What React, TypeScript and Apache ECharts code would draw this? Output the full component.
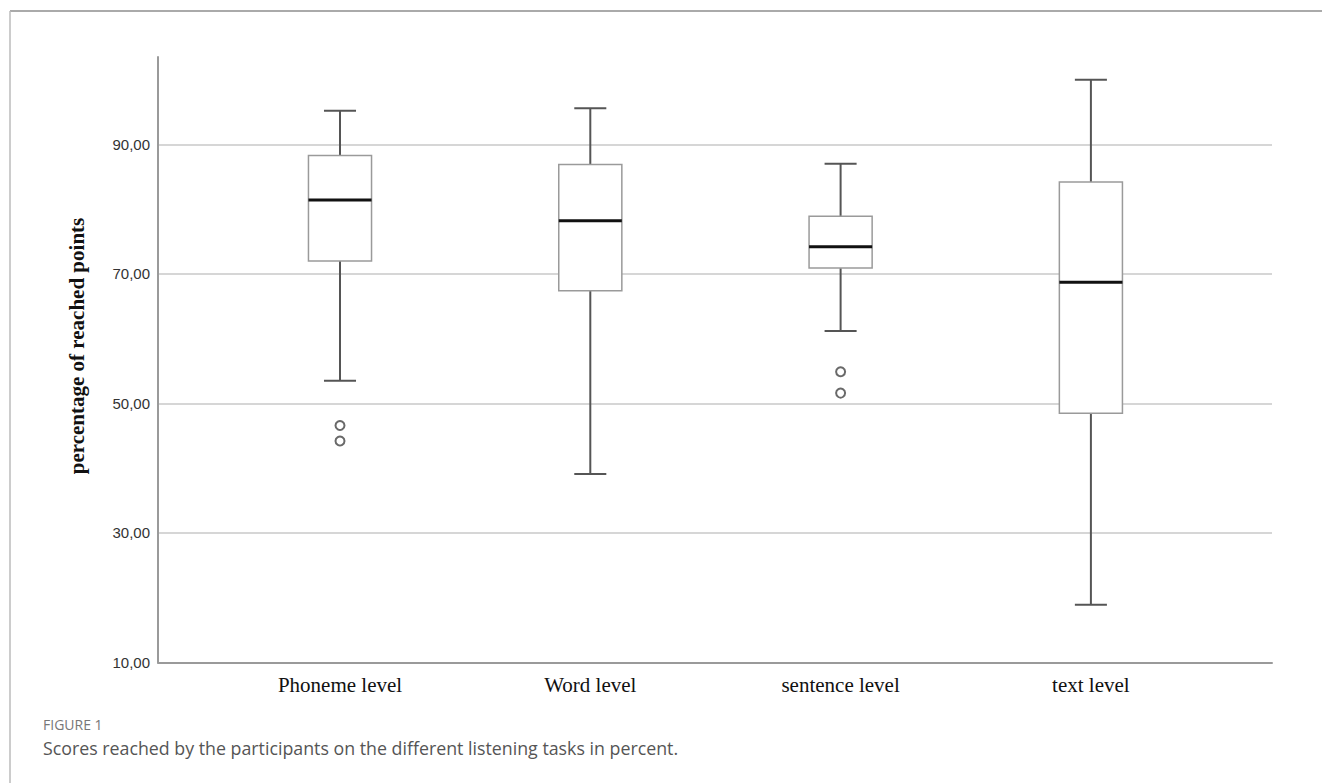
import React, { useEffect, useRef } from "react";
import * as echarts from "echarts";

const categories = ["Phoneme level", "Word level", "sentence level", "text level"];
const whiskerLow = [53.5, 39.1, 61.2, 18.9];
const quartile1 = [72.0, 67.4, 70.9, 48.5];
const medians = [81.4, 78.2, 74.2, 68.7];
const quartile3 = [88.3, 86.9, 78.9, 84.2];
const whiskerHigh = [95.2, 95.6, 87.0, 100.0];
const outlierCategory = [0, 0, 2, 2];
const outlierValue = [46.6, 44.2, 54.9, 51.6];
const yTicks = [10, 30, 50, 70, 90];
const yMin = 10;
const yMax = 103.5;

const yAxisTitle = "percentage of reached points";
const figureLabel = "FIGURE 1";
const captionText = "Scores reached by the participants on the different listening tasks in percent.";

export default function App() {
  const ref = useRef<HTMLDivElement>(null);
  useEffect(() => {
    if (!ref.current) return;
    const chart = echarts.init(ref.current, undefined, { renderer: "svg" });
    const boxData = categories.map((_, i) => [
      i,
      whiskerLow[i],
      quartile1[i],
      medians[i],
      quartile3[i],
      whiskerHigh[i],
    ]);
    const outlierData = outlierValue.map((v, i) => [outlierCategory[i], v]);
    chart.setOption({
      animation: false,
      backgroundColor: "#ffffff",
      grid: [
        { left: 158, right: 50, top: 57, bottom: 120.5 },
        { left: 214.85, width: 1001.2, top: 57, bottom: 120.5 },
      ],
      xAxis: [
        {
          gridIndex: 0,
          type: "value",
          min: 0,
          max: 1,
          axisLine: { show: true, onZero: false, lineStyle: { color: "#9a9a9a", width: 2 } },
          axisTick: { show: false },
          axisLabel: { show: false },
          splitLine: { show: false },
        },
        {
          gridIndex: 1,
          type: "category",
          data: categories,
          axisLine: { show: false },
          axisTick: { show: false },
          splitLine: { show: false },
          axisLabel: {
            fontFamily: "Liberation Serif",
            fontSize: 21,
            color: "#111",
            margin: 12,
          },
        },
      ],
      yAxis: [
        {
          gridIndex: 0,
          type: "value",
          min: yMin,
          max: yMax,
          axisLine: { show: true, onZero: false, lineStyle: { color: "#9a9a9a", width: 2 } },
          axisTick: { show: false, customValues: yTicks },
          axisLabel: {
            customValues: yTicks,
            formatter: (v: number) => v.toFixed(2).replace(".", ","),
            fontFamily: "Liberation Sans",
            fontSize: 15,
            color: "#333",
            margin: 8,
          },
          splitLine: { show: true, lineStyle: { color: "#c8c8c8", width: 1.5 } },
        },
        {
          gridIndex: 1,
          type: "value",
          min: yMin,
          max: yMax,
          show: false,
          splitLine: { show: false },
        },
      ],
      series: [
        {
          type: "custom",
          xAxisIndex: 1,
          yAxisIndex: 1,
          data: boxData,
          encode: { x: 0, y: [1, 2, 3, 4, 5] },
          renderItem: (params: any, api: any) => {
            const x = api.value(0);
            const lo = api.coord([x, api.value(1)]);
            const b1 = api.coord([x, api.value(2)]);
            const md = api.coord([x, api.value(3)]);
            const b3 = api.coord([x, api.value(4)]);
            const hi = api.coord([x, api.value(5)]);
            const band = api.size([1, 0])[0];
            const halfBox = band * 0.126;
            const halfCap = band * 0.064;
            const cx = lo[0];
            const whisk = { stroke: "#555", lineWidth: 2 };
            return {
              type: "group",
              children: [
                { type: "line", shape: { x1: cx, y1: hi[1], x2: cx, y2: b3[1] }, style: whisk },
                { type: "line", shape: { x1: cx, y1: b1[1], x2: cx, y2: lo[1] }, style: whisk },
                { type: "line", shape: { x1: cx - halfCap, y1: hi[1], x2: cx + halfCap, y2: hi[1] }, style: whisk },
                { type: "line", shape: { x1: cx - halfCap, y1: lo[1], x2: cx + halfCap, y2: lo[1] }, style: whisk },
                {
                  type: "rect",
                  shape: { x: cx - halfBox, y: b3[1], width: halfBox * 2, height: b1[1] - b3[1] },
                  style: { fill: "#ffffff", stroke: "#9a9a9a", lineWidth: 1.5 },
                },
                {
                  type: "line",
                  shape: { x1: cx - halfBox, y1: md[1], x2: cx + halfBox, y2: md[1] },
                  style: { stroke: "#111", lineWidth: 3 },
                },
              ],
            };
          },
        },
        {
          type: "scatter",
          xAxisIndex: 1,
          yAxisIndex: 1,
          data: outlierData,
          symbol: "emptyCircle",
          symbolSize: 9,
          itemStyle: { color: "#444", borderWidth: 2 },
        },
      ],
      graphic: [
        { type: "line", shape: { x1: 10, y1: 11, x2: 1322, y2: 11 }, style: { stroke: "#aaaaaa", lineWidth: 2 } },
        { type: "line", shape: { x1: 10, y1: 11, x2: 10, y2: 783 }, style: { stroke: "#bbbbbb", lineWidth: 1.5 } },
        {
          type: "text",
          x: 77,
          y: 346,
          rotation: Math.PI / 2,
          style: {
            text: yAxisTitle,
            fontFamily: "Liberation Serif",
            fontWeight: "bold",
            fontSize: 21,
            fill: "#111",
            align: "center",
            verticalAlign: "middle",
          },
        },
        {
          type: "text",
          x: 43,
          y: 724,
          style: {
            text: figureLabel,
            fontFamily: "Open Sans",
            fontSize: 14,
            fill: "#777",
            verticalAlign: "middle",
          },
        },
        {
          type: "text",
          x: 43,
          y: 748,
          style: {
            text: captionText,
            fontFamily: "Open Sans",
            fontSize: 17.8,
            fill: "#555",
            verticalAlign: "middle",
          },
        },
      ],
    });
    return () => chart.dispose();
  }, []);
  return (
    <div
      ref={ref}
      style={{ position: "fixed", left: 0, top: 0, width: 1322, height: 783, background: "#fff" }}
    />
  );
}
